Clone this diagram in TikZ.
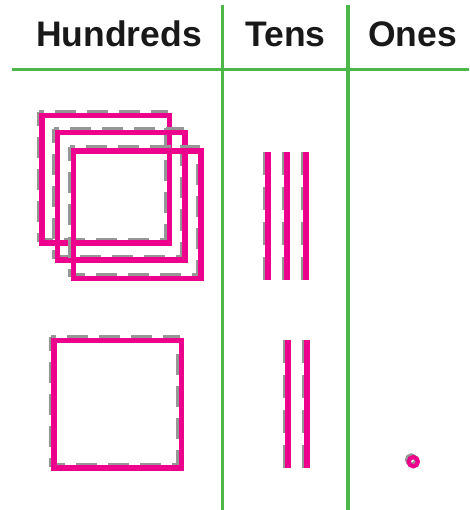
\documentclass[tikz,border=0pt]{standalone}
\usepackage{fontspec}
\setmainfont{Liberation Sans}

\begin{document}
\begin{tikzpicture}[x=1pt,y=-1pt]
	\definecolor{chart green}{RGB}{77,184,72}
	\definecolor{block pink}{RGB}{236,0,140}
	\definecolor{block shadow}{RGB}{150,150,150}

	\tikzset{
		gridline/.style={draw=chart green, line width=3.2},
		shadowsq/.style={draw=block shadow, line width=4, dash pattern=on 21 off 11, dash phase=7},
		shadowrod/.style={draw=block shadow, line width=4, dash pattern=on 23 off 12},
		blocksq/.style={draw=block pink, line width=5.5},
		blockrod/.style={draw=block pink, line width=6},
		head/.style={font=\fontsize{35.5}{40}\selectfont\bfseries, anchor=base, inner sep=0, text=black!90},
	}

	\def\side{127.5} %one flat
	\def\rod{128}    %one rod

	\useasboundingbox (0,0) rectangle (469,510);

	% place-value chart
	\coordinate (rule west) at (12,69.5);
	\coordinate (rule east) at (469,69.5);
	\coordinate (col1 top) at (222.5,5);
	\coordinate (col1 bot) at (222.5,510);
	\coordinate (col2 top) at (348,5);
	\coordinate (col2 bot) at (348,510);
	\draw[gridline] (rule west) -- (rule east);
	\draw[gridline] (col1 top) -- (col1 bot);
	\draw[gridline] (col2 top) -- (col2 bot);

	\node[head] (hundreds) at (119,47) {Hundreds};
	\node[head] (tens) at (285.5,47) {Tens};
	\node[head] (ones) at (412.5,47) {Ones};

	% hundreds
	\foreach \x/\y in {42/115.5, 57.5/132.5, 73.5/151, 54/340.5} {
		\draw[shadowsq] (\x-3.5,\y-3.5) rectangle ++(\side,\side);
		\draw[blocksq] (\x,\y) rectangle ++(\side,\side);
	}

	% tens
	\foreach \x/\y in {268/152, 287/152, 306/152, 288/340, 307/340} {
		\draw[shadowrod] (\x-3.5,\y) -- ++(0,\rod);
		\draw[blockrod] (\x,\y) -- ++(0,\rod);
	}

	% ones
	\draw[draw=block shadow, line width=3.5] (411.3,459.7) circle (4.6);
	\draw[draw=block pink, line width=4.2] (413.3,461.7) circle (4.6);
\end{tikzpicture}
\end{document}
